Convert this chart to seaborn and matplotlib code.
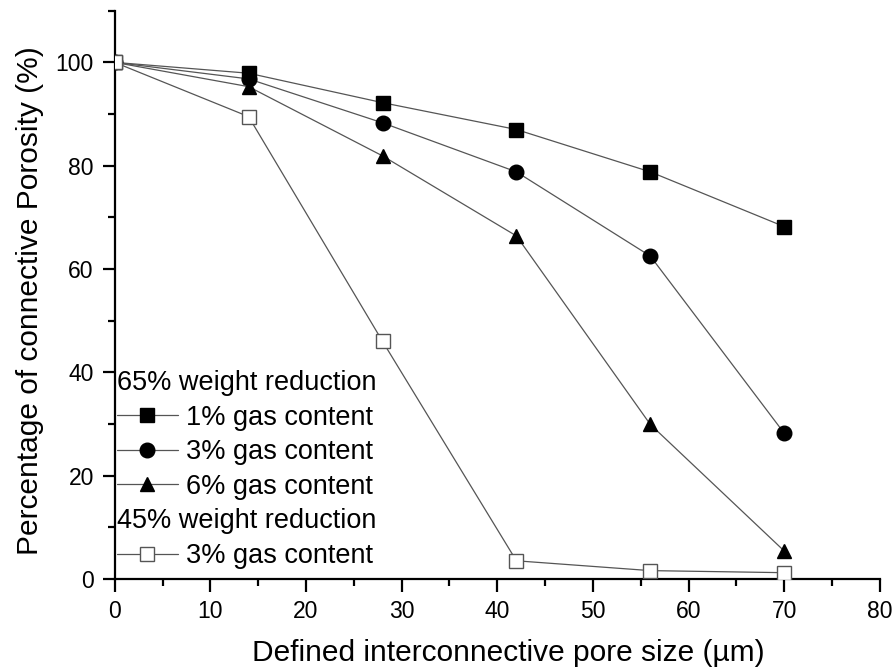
import matplotlib
matplotlib.use("Agg")
import matplotlib.pyplot as plt
from matplotlib.lines import Line2D
from matplotlib.ticker import MultipleLocator
import seaborn as sns
import pandas as pd

# Defined interconnective pore size (µm)
pore_size = [0, 14, 28, 42, 56, 70]

# Percentage of connective porosity (%)
wr65_gas1 = [100, 97.9, 92.2, 87.0, 78.8, 68.2]
wr65_gas3 = [100, 96.8, 88.3, 78.8, 62.5, 28.2]
wr65_gas6 = [100, 95.3, 81.9, 66.4, 29.9, 5.4]
wr45_gas3 = [100, 89.5, 46.0, 3.5, 1.6, 1.2]

labels = ["1% gas content", "3% gas content", "6% gas content", "3% gas content"]
group_titles = ["65% weight reduction", "45% weight reduction"]

sns.set_theme(style="ticks")
plt.rcParams["font.family"] = ["Liberation Sans", "DejaVu Sans"]
plt.rcParams["text.color"] = "black"

fig = plt.figure(figsize=(8.96, 6.70), dpi=100)
ax = fig.add_axes([0.128, 0.136, 0.854, 0.848])

series = [
    (wr65_gas1, "s", "black", "black"),
    (wr65_gas3, "o", "black", "black"),
    (wr65_gas6, "^", "black", "black"),
    (wr45_gas3, "s", "white", "#555555"),
]

line_color = "#555555"
handles = []
for (vals, mk, face, edge), lab in zip(series, labels):
    df = pd.DataFrame({"x": pore_size, "y": vals})
    ms = 10.5 if mk == "o" else 9.5
    sns.lineplot(data=df, x="x", y="y", ax=ax, color=line_color, linewidth=0.9,
                 marker=mk, markersize=ms,
                 markerfacecolor=face, markeredgecolor=edge,
                 markeredgewidth=1.0, zorder=3)
    handles.append(Line2D([], [], color=line_color, linewidth=0.9, marker=mk,
                          markersize=ms, markerfacecolor=face, markeredgecolor=edge,
                          markeredgewidth=1.0))

blank = Line2D([], [], linestyle="none", marker=None)
leg_handles = [blank, handles[0], handles[1], handles[2], blank, handles[3]]
leg_labels = [group_titles[0], labels[0], labels[1], labels[2], group_titles[1], labels[3]]
is_title = [True, False, False, False, True, False]

leg = ax.legend(leg_handles, leg_labels, loc="upper left",
                bbox_to_anchor=(0.003, 0.367), frameon=False, fontsize=19.5,
                handlelength=2.25, handletextpad=0.3, labelspacing=0.315,
                borderpad=0, borderaxespad=0, markerscale=1.0)
for txt in leg.get_texts():
    txt.set_color("black")

# group headings sit flush left without a handle
rows = leg._legend_handle_box.get_children()[0].get_children()
for row, t in zip(rows, is_title):
    if t:
        row.get_children()[0].set_width(0)
        row.sep = 0

ax.set_xlim(0, 80)
ax.set_ylim(0, 110)
ax.xaxis.set_major_locator(MultipleLocator(10))
ax.xaxis.set_minor_locator(MultipleLocator(5))
ax.yaxis.set_major_locator(MultipleLocator(20))
ax.yaxis.set_minor_locator(MultipleLocator(10))
ax.tick_params(which="major", direction="out", length=9, width=1.6,
               labelsize=16.5, color="black", labelcolor="black", pad=6)
ax.tick_params(which="minor", direction="out", length=5, width=1.6, color="black")

for side in ["top", "right"]:
    ax.spines[side].set_visible(False)
for side in ["left", "bottom"]:
    ax.spines[side].set_linewidth(1.6)
    ax.spines[side].set_color("black")

ax.set_xlabel("Defined interconnective pore size (µm)", fontsize=21.5, labelpad=8, color="black")
ax.set_ylabel("Percentage of connective Porosity (%)", fontsize=21.5, labelpad=8, color="black")
ax.xaxis.set_label_coords(0.515, -0.105)
ax.yaxis.set_label_coords(-0.093, 0.49)
ax.set_facecolor("white")
fig.patch.set_facecolor("white")

fig.savefig("out.png", dpi=100, facecolor="white")
